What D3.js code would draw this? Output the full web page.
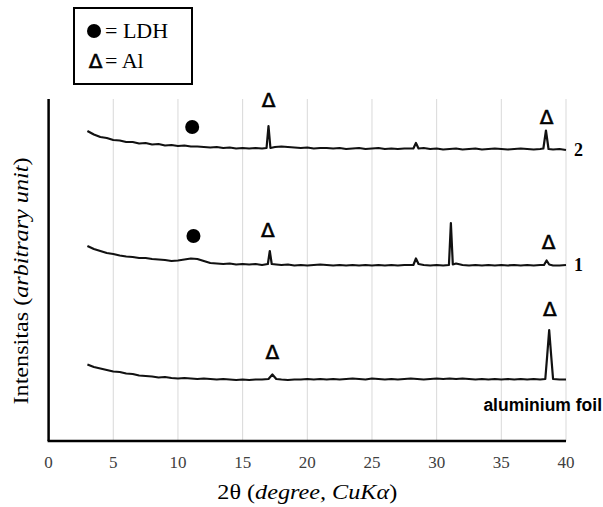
<!DOCTYPE html>
<html>
<head>
<meta charset="utf-8">
<title>XRD</title>
<script src="https://cdn.jsdelivr.net/npm/d3@7"></script>
<style>
  body { margin: 0; background: #fff; }
  .tick-label { font-family: "Liberation Serif", serif; font-size: 17px; fill: #404040; }
  .title { font-family: "Liberation Serif", serif; font-size: 21px; fill: #000; }
</style>
</head>
<body>
<div id="chart"></div>
<script>
// x ticks
var xTicks = [0, 5, 10, 15, 20, 25, 30, 35, 40];

// series: [2theta, intensity (arbitrary unit)]
var sample2 = [
  [3.0,90.64],[3.5,89.62],[4.0,88.89],[4.5,88.60],[5.0,88.01],[5.5,87.87],[6.0,87.43],[6.5,87.43],
  [7.0,86.99],[7.5,87.13],[8.0,86.70],[8.5,86.84],[9.0,86.40],[9.5,86.55],[10.0,86.26],[10.5,86.40],
  [11.0,86.11],[11.5,86.11],[12.0,85.96],[12.5,85.82],[13.0,85.96],[13.5,85.67],[14.0,85.82],[14.5,85.53],
  [15.0,85.67],[15.5,85.53],[16.0,85.67],[16.5,85.53],[16.85,85.67],[17.0,92.11],[17.15,85.67],[17.5,85.96],
  [18.0,86.11],[18.5,85.96],[19.0,85.82],[19.5,85.67],[20.0,85.82],[20.5,85.53],[21.0,85.67],[21.5,85.67],
  [22.0,85.53],[22.5,85.67],[23.0,85.38],[23.5,85.53],[24.0,85.67],[24.5,85.38],[25.0,85.53],[25.5,85.67],
  [26.0,85.38],[26.5,85.53],[27.0,85.38],[27.5,85.53],[28.2,85.53],[28.4,87.13],[28.6,85.53],[29.0,85.67],
  [29.5,85.38],[30.0,85.53],[30.5,85.23],[31.0,85.38],[31.5,85.53],[32.0,85.23],[32.5,85.38],[33.0,85.53],
  [33.5,85.23],[34.0,85.38],[34.5,85.53],[35.0,85.38],[35.5,85.23],[36.0,85.38],[36.5,85.53],[37.0,85.38],
  [37.5,85.23],[38.0,85.38],[38.25,85.53],[38.45,90.79],[38.65,85.38],[39.0,85.23],[39.5,85.38],[40.0,85.09]
];
var sample1 = [
  [3.0,57.02],[3.5,56.14],[4.0,55.56],[4.5,54.97],[5.0,54.68],[5.5,54.24],[6.0,53.95],[6.5,53.80],
  [7.0,53.51],[7.5,53.51],[8.0,53.22],[8.5,53.07],[9.0,52.92],[9.5,52.63],[10.0,52.78],[10.5,53.07],
  [11.0,53.36],[11.5,53.22],[12.0,52.63],[12.5,52.05],[13.0,51.90],[13.5,51.75],[14.0,51.90],[14.5,51.61],
  [15.0,51.75],[15.5,51.61],[16.0,51.75],[16.5,51.46],[16.95,51.75],[17.1,55.56],[17.25,51.75],[17.6,51.61],
  [18.0,51.46],[18.5,51.61],[19.0,51.32],[19.5,51.46],[20.0,51.32],[20.5,51.46],[21.0,51.61],[21.5,51.46],
  [22.0,51.32],[22.5,51.46],[23.0,51.32],[23.5,51.46],[24.0,51.32],[24.5,51.46],[25.0,51.32],[25.5,51.46],
  [26.0,51.32],[26.5,51.46],[27.0,51.32],[27.5,51.46],[28.2,51.46],[28.4,53.36],[28.6,51.75],[29.0,51.46],
  [29.5,51.32],[30.0,51.46],[30.5,51.32],[30.95,51.46],[31.1,63.74],[31.25,51.61],[31.5,51.90],[32.0,51.46],
  [32.5,51.32],[33.0,51.46],[33.5,51.32],[34.0,51.46],[34.5,51.32],[35.0,51.46],[35.5,51.32],[36.0,51.46],
  [36.5,51.32],[37.0,51.46],[37.5,51.32],[38.0,51.46],[38.3,51.46],[38.5,52.78],[38.7,51.61],[39.0,51.32],
  [39.5,51.32],[40.0,51.46]
];
var foil = [
  [3.0,22.37],[3.5,21.64],[4.0,21.20],[4.5,20.76],[5.0,20.32],[5.5,20.18],[6.0,19.74],[6.5,19.59],
  [7.0,19.15],[7.5,19.01],[8.0,18.86],[8.5,18.57],[9.0,18.71],[9.5,18.42],[10.0,18.27],[10.5,18.42],
  [11.0,18.27],[11.5,18.13],[12.0,18.27],[12.5,18.13],[13.0,17.98],[13.5,18.13],[14.0,17.98],[14.5,17.84],
  [15.0,17.98],[15.5,17.84],[16.0,17.98],[16.5,17.98],[17.0,18.13],[17.3,19.44],[17.6,18.13],[18.0,17.98],
  [18.5,17.84],[19.0,17.98],[19.5,17.98],[20.0,18.13],[20.5,17.98],[21.0,18.13],[21.5,17.98],[22.0,18.13],
  [22.5,17.98],[23.0,18.13],[23.5,18.27],[24.0,18.13],[24.5,17.98],[25.0,18.27],[25.5,18.13],[26.0,17.98],
  [26.5,18.13],[27.0,17.98],[27.5,18.13],[28.0,18.27],[28.5,18.13],[29.0,17.98],[29.5,18.13],[30.0,18.27],
  [30.5,18.13],[31.0,18.27],[31.5,18.13],[32.0,18.27],[32.5,18.13],[33.0,17.98],[33.5,18.13],[34.0,17.98],
  [34.5,18.13],[35.0,17.98],[35.5,18.13],[36.0,17.98],[36.5,18.13],[37.0,17.98],[37.5,18.13],[38.0,17.98],
  [38.4,18.13],[38.55,25.15],[38.7,32.46],[38.85,25.15],[39.0,18.13],[39.5,17.98],[40.0,17.98]
];

// phase markers [2theta, intensity]
var ldhMarks = [[11.1, 91.81], [11.2, 59.94]];
var alMarks = [[17.0, 99.71], [38.5, 94.74], [16.95, 61.70], [38.65, 58.19], [17.3, 26.02], [38.75, 38.60]];

var width = 603, height = 507;
var margin = {left: 48.6, right: 37, top: 99, bottom: 66};

var svg = d3.select("#chart").append("svg")
  .attr("width", width)
  .attr("height", height);

var x = d3.scaleLinear().domain([0, 40]).range([margin.left, width - margin.right]);
var y = d3.scaleLinear().domain([0, 100]).range([height - margin.bottom, margin.top]);

// gridlines
svg.append("g").selectAll("line").data(xTicks.slice(1)).enter()
  .append("line")
  .attr("x1", function(d) { return x(d); })
  .attr("x2", function(d) { return x(d); })
  .attr("y1", y(0))
  .attr("y2", y(100))
  .attr("stroke", "#d9d9d9")
  .attr("stroke-width", 1);

// x tick labels
svg.append("g").selectAll("text").data(xTicks).enter()
  .append("text")
  .attr("class", "tick-label")
  .attr("x", function(d) { return x(d); })
  .attr("y", y(0) + 27)
  .attr("text-anchor", "middle")
  .text(function(d) { return d; });

// traces
var line = d3.line()
  .x(function(d) { return x(d[0]); })
  .y(function(d) { return y(d[1]); });

[sample2, sample1, foil].forEach(function(s) {
  svg.append("path")
    .datum(s)
    .attr("d", line)
    .attr("fill", "none")
    .attr("stroke", "#111")
    .attr("stroke-width", 2.2)
    .attr("stroke-linejoin", "round");
});

// axes lines
svg.append("line")
  .attr("x1", x(0)).attr("x2", x(0))
  .attr("y1", y(100)).attr("y2", y(0))
  .attr("stroke", "#000").attr("stroke-width", 2.5);
svg.append("line")
  .attr("x1", x(0) - 1).attr("x2", x(40))
  .attr("y1", y(0)).attr("y2", y(0))
  .attr("stroke", "#000").attr("stroke-width", 2.5);

// markers
svg.append("g").selectAll("circle").data(ldhMarks).enter()
  .append("circle")
  .attr("cx", function(d) { return x(d[0]); })
  .attr("cy", function(d) { return y(d[1]); })
  .attr("r", 7)
  .attr("fill", "#000");

svg.append("g").selectAll("text").data(alMarks).enter()
  .append("text")
  .attr("x", function(d) { return x(d[0]); })
  .attr("y", function(d) { return y(d[1]); })
  .attr("dy", "0.36em")
  .attr("text-anchor", "middle")
  .attr("stroke", "#000")
  .attr("stroke-width", 0.6)
  .style("font-family", "DejaVu Sans")
  .style("font-size", "20px")
  .text("Δ");

// series labels
var serif = "Liberation Serif";
svg.append("text")
  .attr("x", x(40) + 8).attr("y", y(sample2[sample2.length - 1][1]))
  .attr("dy", "0.35em")
  .style("font-family", serif).style("font-size", "18px").style("font-weight", "bold")
  .text("2");
svg.append("text")
  .attr("x", x(40) + 8).attr("y", y(sample1[sample1.length - 1][1]))
  .attr("dy", "0.35em")
  .style("font-family", serif).style("font-size", "18px").style("font-weight", "bold")
  .text("1");
svg.append("text")
  .attr("x", width - 1).attr("y", y(foil[foil.length - 1][1]) + 31)
  .attr("text-anchor", "end")
  .style("font-family", "Liberation Sans").style("font-size", "17.5px").style("font-weight", "bold")
  .text("aluminium foil");

// axis titles
var xt = svg.append("text")
  .attr("class", "title")
  .attr("x", (x(0) + x(40)) / 2)
  .attr("y", 499)
  .attr("text-anchor", "middle")
  .attr("textLength", 180)
  .attr("lengthAdjust", "spacingAndGlyphs");
xt.append("tspan").text("2θ (");
xt.append("tspan").style("font-style", "italic").text("degree, CuKα");
xt.append("tspan").text(")");

var yt = svg.append("text")
  .attr("class", "title")
  .attr("transform", "translate(28," + 281 + ") rotate(-90)")
  .attr("text-anchor", "middle")
  .attr("textLength", 247)
  .attr("lengthAdjust", "spacingAndGlyphs");
yt.append("tspan").text("Intensitas (");
yt.append("tspan").style("font-style", "italic").text("arbitrary unit");
yt.append("tspan").text(")");

// legend
var lg = svg.append("g");
lg.append("rect")
  .attr("x", 74).attr("y", 8).attr("width", 118).attr("height", 76)
  .attr("fill", "#fff").attr("stroke", "#000").attr("stroke-width", 2);
lg.append("circle").attr("cx", 94).attr("cy", 31).attr("r", 7).attr("fill", "#000");
lg.append("text").attr("x", 105).attr("y", 38)
  .style("font-family", serif).style("font-size", "22px").text("= LDH");
lg.append("text").attr("x", 95.5).attr("y", 68)
  .attr("text-anchor", "middle")
  .attr("stroke", "#000").attr("stroke-width", 0.6)
  .style("font-family", "DejaVu Sans").style("font-size", "20px").text("Δ");
lg.append("text").attr("x", 105).attr("y", 68)
  .style("font-family", serif).style("font-size", "22px").text("= Al");
</script>
</body>
</html>
